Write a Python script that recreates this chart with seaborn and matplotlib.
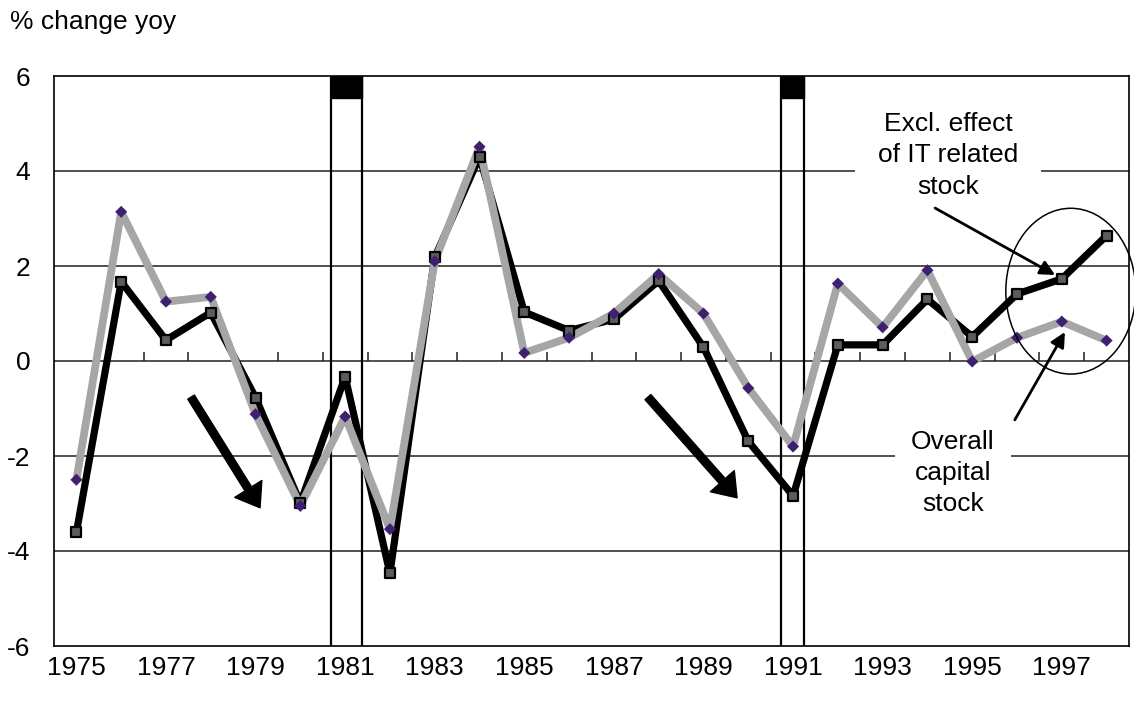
import matplotlib
matplotlib.use("Agg")
import matplotlib.pyplot as plt
import numpy as np
import pandas as pd
import seaborn as sns
from matplotlib.patches import Ellipse, FancyArrowPatch, Rectangle

# Annual data, 1975-1998
years = list(range(1975, 1999))
overall_stock = [-2.50, 3.14, 1.25, 1.35, -1.12, -3.05, -1.17, -3.54, 2.10, 4.51,
                 0.17, 0.49, 1.00, 1.83, 1.00, -0.57, -1.80, 1.63, 0.71, 1.91,
                 -0.01, 0.49, 0.83, 0.43]
excl_it_stock = [-3.61, 1.67, 0.44, 1.02, -0.77, -2.99, -0.33, -4.47, 2.18, 4.30,
                 1.03, 0.64, 0.88, 1.69, 0.29, -1.69, -2.84, 0.34, 0.34, 1.30,
                 0.51, 1.41, 1.73, 2.64]
tick_years = years[::2]
# recession periods, in fractional years
recessions = [(1980.68, 1981.38), (1990.72, 1991.24)]

sns.set_style("white")
plt.rcParams["font.family"] = ["Liberation Sans", "DejaVu Sans"]
plt.rcParams["font.size"] = 19
plt.rcParams["text.color"] = "black"
plt.rcParams["xtick.color"] = "black"
plt.rcParams["ytick.color"] = "black"
plt.rcParams["axes.labelcolor"] = "black"

df = pd.DataFrame({
    "pos": np.arange(len(years)),
    "year": years,
    "overall": overall_stock,
    "excl": excl_it_stock,
})

fig = plt.figure(figsize=(11.34, 7.01), dpi=100)
ax = fig.add_axes([54 / 1134, 1 - 646 / 701, 1075 / 1134, 570 / 701])

# horizontal grid
for yv in range(-4, 6, 2):
    ax.axhline(yv, color="#202020", lw=1.1, zorder=1)

# small category ticks on the zero line
ax.vlines(df["pos"].values[:-1] + 0.5, 0, 0.2, color="#202020", lw=1.1, zorder=1)

# recession bars
x0 = years[0]
for a, b in recessions:
    ax.axvline(a - x0, color="black", lw=1.6, zorder=2)
    ax.axvline(b - x0, color="black", lw=1.6, zorder=2)
    ax.add_patch(Rectangle((a - x0, 5.54), b - a, 0.46, facecolor="black",
                           edgecolor="black", zorder=2))

# series lines
sns.lineplot(data=df, x="pos", y="excl", color="black", lw=5.2, ax=ax, zorder=3)
sns.lineplot(data=df, x="pos", y="overall", color="#a6a6a6", lw=5.6, ax=ax, zorder=4)
# series markers
sns.scatterplot(data=df, x="pos", y="excl", marker="s", s=50, color="#5c5c5c",
                edgecolor="black", linewidth=1.6, ax=ax, zorder=6)
sns.scatterplot(data=df, x="pos", y="overall", marker="D", s=38, color="#3f2070",
                edgecolor="none", ax=ax, zorder=7)

ax.set_xlim(-0.5, len(years) - 0.5)
ax.set_ylim(-6, 6)
ax.set_yticks(range(-6, 7, 2))
ax.set_yticklabels([str(v) for v in range(-6, 7, 2)])
ax.set_xticks([y - x0 for y in tick_years])
ax.set_xticklabels([str(y) for y in tick_years])
ax.tick_params(axis="x", length=0, pad=7, labelsize=19)
ax.tick_params(axis="y", direction="in", length=4, width=1, pad=17, labelsize=19)
ax.set_xlabel("")
ax.set_ylabel("")
for sp in ax.spines.values():
    sp.set_color("black")
    sp.set_linewidth(1.2)
    sp.set_zorder(8)

# downturn arrows
for tail, head in [((2.56, -0.76), (4.10, -3.09)), ((12.76, -0.76), (14.75, -2.88))]:
    ax.add_patch(FancyArrowPatch(tail, head,
                                 arrowstyle="simple,head_length=0.8,head_width=1.15,tail_width=0.28",
                                 mutation_scale=20, color="black", shrinkA=0, shrinkB=0,
                                 zorder=9))

# labels for the two series
ax.text(19.46, 4.33, "Excl. effect\nof IT related\nstock", ha="center", va="center",
        fontsize=19, linespacing=1.38,
        bbox=dict(boxstyle="square,pad=0.85", facecolor="white", edgecolor="none"),
        zorder=5)
ax.text(19.57, -2.36, "Overall\ncapital\nstock", ha="center", va="center",
        fontsize=19, linespacing=1.38,
        bbox=dict(boxstyle="square,pad=0.6", facecolor="white", edgecolor="none"),
        zorder=5)
ax.annotate("", xy=(21.85, 1.81), xytext=(19.17, 3.22),
            arrowprops=dict(arrowstyle="-|>", lw=2, color="black", mutation_scale=22,
                            shrinkA=0, shrinkB=0), zorder=9)
ax.annotate("", xy=(22.07, 0.61), xytext=(20.95, -1.24),
            arrowprops=dict(arrowstyle="-|>", lw=2, color="black", mutation_scale=22,
                            shrinkA=0, shrinkB=0), zorder=9)

# ring around the last years
ax.add_patch(Ellipse((22.2, 1.47), 2.9, 3.49, facecolor="none", edgecolor="black",
                     lw=1.1, clip_on=False, zorder=9))

fig.text(10 / 1134, 1 - 22 / 701, "% change yoy", ha="left", va="center", fontsize=19)

fig.savefig("out.png", dpi=100)
